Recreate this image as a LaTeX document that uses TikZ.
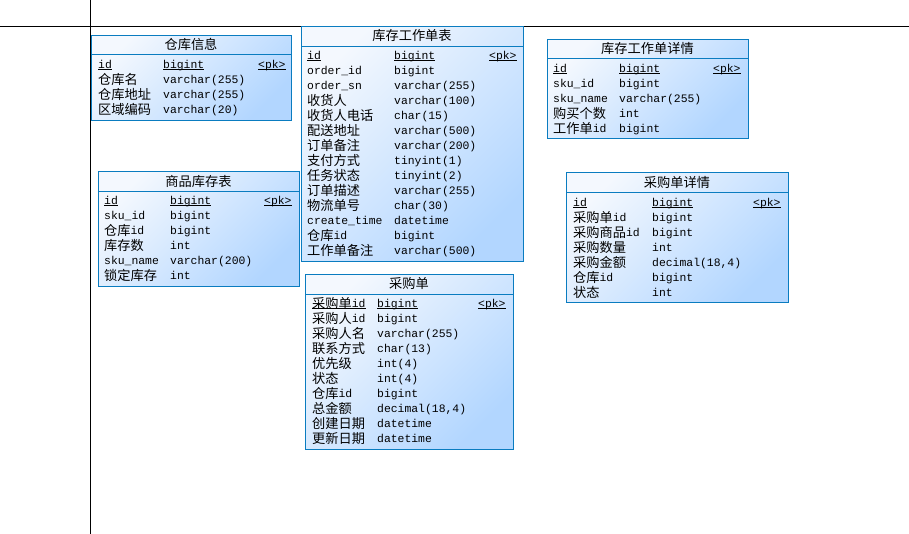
\documentclass[tikz,border=0pt]{standalone}
\usepackage{fontspec}
\newfontfamily\cjk[Scale=1.16]{Noto Sans CJK SC}
\newfontfamily\dbmono{Liberation Mono}
\usepackage{tikz}
\usetikzlibrary{positioning,calc}
\definecolor{tblue}{HTML}{0A7CC0}
\definecolor{tlight}{HTML}{F4F8FE}
\definecolor{tdeep}{HTML}{B2D6FF}
\tikzset{
    every picture/.style={line cap=rect,line join=miter},
    tablebox/.style={draw=tblue,line width=1pt,top color=tlight,bottom color=tdeep,
      shading angle=45,inner sep=0pt,outer sep=0pt,anchor=north west},
    headline/.style={draw=tblue,line width=1pt},
    fieldtext/.style={anchor=base west,inner sep=0pt,
      font=\dbmono\fontsize{11.4}{15}\selectfont},
    titletext/.style={inner sep=0pt,font=\cjk\fontsize{11.4}{15}\selectfont},
    gridline/.style={draw=black,line width=1pt}
}
\newcommand{\zh}[1]{\raisebox{-1.2pt}{\cjk #1}}
\newcommand{\pkline}[1]{\setbox0=\hbox{#1}\rlap{\rule[-1.8pt]{\wd0}{0.8pt}}\box0}

\begin{document}
\begin{tikzpicture}[x=1pt,y=-1pt]
  \useasboundingbox (0,0) rectangle (909,533);
  \fill[white] (0,0) rectangle (909,533);
  \coordinate (hl) at (0,26); \coordinate (hr) at (909,26);
  \coordinate (vt) at (90,0); \coordinate (vb) at (90,533);
  \draw[gridline] (hl)--(hr);
  \draw[gridline] (vt)--(vb);

  % 仓库信息
  \node[tablebox,minimum width=200pt,minimum height=85pt] (ck) at (91,35){};
  \draw[headline] ($(ck.north west)+(0,19)$)--($(ck.north east)+(0,19)$);
  \node[titletext] (ck-t) at ($(ck.north)+(0,9.5)$){仓库信息};
  \node[fieldtext] (ck-n0) at (98,68){\pkline{id}};
  \node[fieldtext] (ck-y0) at (163,68){\pkline{bigint}};
  \node[fieldtext] (ck-pk) at (258,68){\pkline{<pk>}};
  \foreach \n/\t [count=\i] in {\zh{仓库名}/varchar(255),\zh{仓库地址}/varchar(255),
    \zh{区域编码}/varchar(20)}{
    \node[fieldtext] (ck-n\i) at (98,{68+15*\i}){\n};
    \node[fieldtext] (ck-y\i) at (163,{68+15*\i}){\t};
  }

  % 库存工作单表
  \node[tablebox,minimum width=222pt,minimum height=235pt] (gzd) at (301,26){};
  \draw[headline] ($(gzd.north west)+(0,20)$)--($(gzd.north east)+(0,20)$);
  \node[titletext] (gzd-t) at ($(gzd.north)+(0,9.5)$){库存工作单表};
  \node[fieldtext] (gzd-n0) at (307,59){\pkline{id}};
  \node[fieldtext] (gzd-y0) at (394,59){\pkline{bigint}};
  \node[fieldtext] (gzd-pk) at (489,59){\pkline{<pk>}};
  \foreach \n/\t [count=\i] in {order\_id/bigint,order\_sn/varchar(255),
    \zh{收货人}/varchar(100),\zh{收货人电话}/char(15),\zh{配送地址}/varchar(500),
    \zh{订单备注}/varchar(200),\zh{支付方式}/tinyint(1),\zh{任务状态}/tinyint(2),
    \zh{订单描述}/varchar(255),\zh{物流单号}/char(30),create\_time/datetime,
    \zh{仓库}id/bigint,\zh{工作单备注}/varchar(500)}{
    \node[fieldtext] (gzd-n\i) at (307,{59+15*\i}){\n};
    \node[fieldtext] (gzd-y\i) at (394,{59+15*\i}){\t};
  }

  % 库存工作单详情
  \node[tablebox,minimum width=201pt,minimum height=99pt] (gzxq) at (547,39){};
  \draw[headline] ($(gzxq.north west)+(0,19)$)--($(gzxq.north east)+(0,19)$);
  \node[titletext] (gzxq-t) at ($(gzxq.north)+(0,9.5)$){库存工作单详情};
  \node[fieldtext] (gzxq-n0) at (553,72){\pkline{id}};
  \node[fieldtext] (gzxq-y0) at (619,72){\pkline{bigint}};
  \node[fieldtext] (gzxq-pk) at (713,72){\pkline{<pk>}};
  \foreach \n/\t [count=\i] in {sku\_id/bigint,sku\_name/varchar(255),
    \zh{购买个数}/int,\zh{工作单}id/bigint}{
    \node[fieldtext] (gzxq-n\i) at (553,{72+15*\i}){\n};
    \node[fieldtext] (gzxq-y\i) at (619,{72+15*\i}){\t};
  }

  % 商品库存表
  \node[tablebox,minimum width=201pt,minimum height=115pt] (spkc) at (98,171){};
  \draw[headline] ($(spkc.north west)+(0,20)$)--($(spkc.north east)+(0,20)$);
  \node[titletext] (spkc-t) at ($(spkc.north)+(0,10)$){商品库存表};
  \node[fieldtext] (spkc-n0) at (104,204){\pkline{id}};
  \node[fieldtext] (spkc-y0) at (170,204){\pkline{bigint}};
  \node[fieldtext] (spkc-pk) at (264,204){\pkline{<pk>}};
  \foreach \n/\t [count=\i] in {sku\_id/bigint,\zh{仓库}id/bigint,\zh{库存数}/int,
    sku\_name/varchar(200),\zh{锁定库存}/int}{
    \node[fieldtext] (spkc-n\i) at (104,{204+15*\i}){\n};
    \node[fieldtext] (spkc-y\i) at (170,{204+15*\i}){\t};
  }

  % 采购单详情
  \node[tablebox,minimum width=222pt,minimum height=130pt] (cgxq) at (566,172){};
  \draw[headline] ($(cgxq.north west)+(0,20)$)--($(cgxq.north east)+(0,20)$);
  \node[titletext] (cgxq-t) at ($(cgxq.north)+(0,10)$){采购单详情};
  \node[fieldtext] (cgxq-n0) at (573,206){\pkline{id}};
  \node[fieldtext] (cgxq-y0) at (652,206){\pkline{bigint}};
  \node[fieldtext] (cgxq-pk) at (753,206){\pkline{<pk>}};
  \foreach \n/\t [count=\i] in {\zh{采购单}id/bigint,\zh{采购商品}id/bigint,
    \zh{采购数量}/int,\zh{采购金额}/decimal(18{,}4),\zh{仓库}id/bigint,\zh{状态}/int}{
    \node[fieldtext] (cgxq-n\i) at (573,{206+15*\i}){\n};
    \node[fieldtext] (cgxq-y\i) at (652,{206+15*\i}){\t};
  }

  % 采购单
  \node[tablebox,minimum width=208pt,minimum height=175pt] (cgd) at (305,274){};
  \draw[headline] ($(cgd.north west)+(0,20)$)--($(cgd.north east)+(0,20)$);
  \node[titletext] (cgd-t) at ($(cgd.north)+(0,9.5)$){采购单};
  \node[fieldtext] (cgd-n0) at (312,307){\pkline{\zh{采购单}id}};
  \node[fieldtext] (cgd-y0) at (377,307){\pkline{bigint}};
  \node[fieldtext] (cgd-pk) at (478,307){\pkline{<pk>}};
  \foreach \n/\t [count=\i] in {\zh{采购人}id/bigint,\zh{采购人名}/varchar(255),
    \zh{联系方式}/char(13),\zh{优先级}/int(4),\zh{状态}/int(4),\zh{仓库}id/bigint,
    \zh{总金额}/decimal(18{,}4),\zh{创建日期}/datetime,\zh{更新日期}/datetime}{
    \node[fieldtext] (cgd-n\i) at (312,{307+15*\i}){\n};
    \node[fieldtext] (cgd-y\i) at (377,{307+15*\i}){\t};
  }
\end{tikzpicture}
\end{document}
